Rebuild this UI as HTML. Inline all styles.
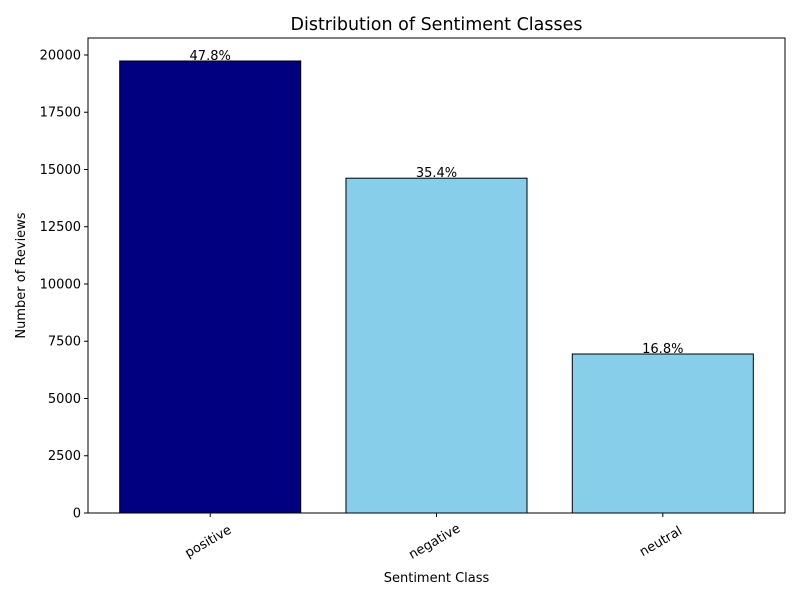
<!DOCTYPE html>
<html><head><meta charset="utf-8"><style>
body{margin:0;background:#fff;font-family:"Liberation Sans","DejaVu Sans",sans-serif;}
</style></head><body>
<svg id="chart" width="800" height="600" xmlns="http://www.w3.org/2000/svg" font-family="DejaVu Sans, Liberation Sans, sans-serif"></svg>
<script>
const categories = ["positive","negative","neutral"];
const counts = [19738, 14620, 6943];
const colors = ["#000080","#87ceeb","#87ceeb"];
const yTicks = [0,2500,5000,7500,10000,12500,15000,17500,20000];

const NS="http://www.w3.org/2000/svg";
const svg=document.getElementById('chart');
const L=88,R=785,T=38,B=513;
const yMax=20742, xMin=-0.54, xMax=2.54;
const y=v=>B-(v/yMax)*(B-T);
const x=i=>L+(i-xMin)/(xMax-xMin)*(R-L);
function mk(tag,attrs,text){const e=document.createElementNS(NS,tag);for(const k in attrs)e.setAttribute(k,attrs[k]);if(text!==undefined)e.textContent=text;svg.appendChild(e);return e;}
const total=counts.reduce((a,b)=>a+b,0);
const bw=(x(1)-x(0))*0.8;
counts.forEach((c,i)=>{
  const r=mk('rect',{x:x(i)-bw/2,y:y(c),width:bw,height:B-y(c),fill:colors[i],stroke:'#000','stroke-width':1});
  
  
  const t=mk('text',{x:x(i),y:y(c)-1,'text-anchor':'middle','font-size':13,fill:'#000'},(c/total*100).toFixed(1)+'%');
  
  
  mk('line',{x1:x(i),x2:x(i),y1:B,y2:B+4,stroke:'#000'});
  const tl=mk('text',{transform:`translate(${x(i)},${B+32}) rotate(-30)`,'text-anchor':'middle','font-size':13},categories[i]);
  
  
});
yTicks.forEach(v=>{
  mk('line',{x1:L-4,x2:L,y1:y(v),y2:y(v),stroke:'#000'});
  const t=mk('text',{x:L-7,y:y(v)+4.5,'text-anchor':'end','font-size':13},String(v));
  
  
});
const f=mk('rect',{x:L,y:T,width:R-L,height:B-T,fill:'none',stroke:'#000','stroke-width':1});

const ti=mk('text',{x:(L+R)/2,y:30,'text-anchor':'middle','font-size':17.5},'Distribution of Sentiment Classes');

const xt=mk('text',{x:(L+R)/2,y:582,'text-anchor':'middle','font-size':13},'Sentiment Class');

const yt=mk('text',{transform:`translate(25,${(T+B)/2}) rotate(-90)`,'text-anchor':'middle','font-size':13},'Number of Reviews');

</script>
</body></html>
